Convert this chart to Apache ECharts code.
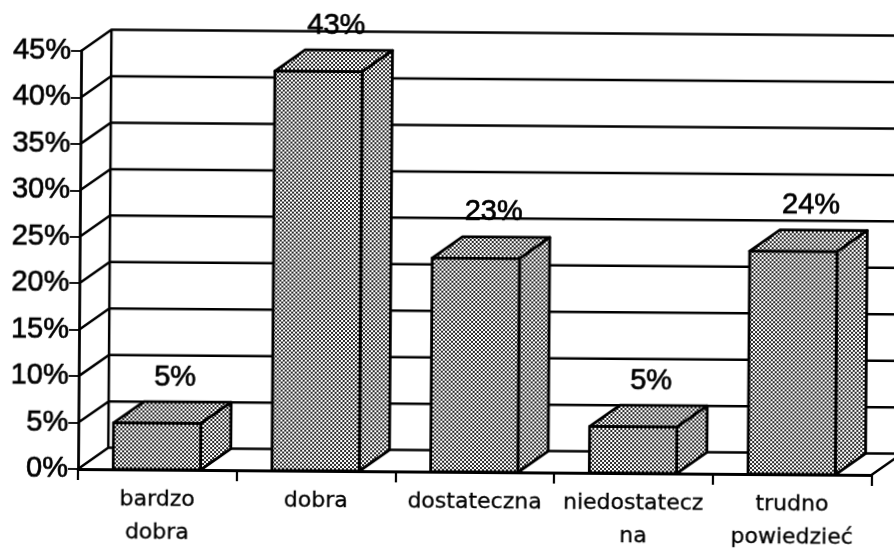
<!DOCTYPE html>
<html><head><meta charset="utf-8">
<style>
html,body{margin:0;padding:0;background:#fff;overflow:hidden}
#c{width:894px;height:549px;transform:rotate(0.43deg);transform-origin:78px 469px}
</style>
<script src="https://cdn.jsdelivr.net/npm/echarts@6/dist/echarts.min.js"></script>
</head><body><div id="c"></div>
<script>
const categories = ['bardzo\ndobra','dobra','dostateczna','niedostatecz\nna','trudno\npowiedzieć'];
const percentages = [5,43,23,5,24];
const wallTicks = [0,5,10,15,20,25,30,35,40,45];

const tile = document.createElement('canvas'); tile.width = 4; tile.height = 4;
const t = tile.getContext('2d');
t.fillStyle = '#fff'; t.fillRect(0,0,4,4);
t.fillStyle = '#2a2a2a';
t.fillRect(0,0,2,2); t.fillRect(2,2,2,2);
const pattern = {image: tile, repeat: 'repeat'};
const ink = '#000';

const chart = echarts.init(document.getElementById('c'), null, {renderer:'canvas'});
function depth(sys){ const band = sys.width/categories.length; return [band*0.19, -band*0.135]; }

function wallItem(params, api){
  const sys = params.coordSys, d = depth(sys);
  const v = api.value(0), y = api.coord([0,v])[1];
  const x0 = sys.x, xb = sys.x + d[0], xe = sys.x + sys.width + d[0];
  const kids = [{type:'polyline',shape:{points:[[x0,y],[xb,y+d[1]],[xe+10,y+d[1]]]},
    style:{fill:null,stroke:ink,lineWidth:2.5}}];
  if (v === 0) {
    kids.push({type:'line',shape:{x1:xb,y1:sys.y+d[1],x2:xb,y2:y+d[1]},style:{stroke:ink,lineWidth:2.5}});
    kids.push({type:'line',shape:{x1:x0+sys.width,y1:y,x2:xe,y2:y+d[1]},style:{stroke:ink,lineWidth:2.5}});
  }
  return {type:'group',children:kids};
}
function barItem(params, api){
  const sys = params.coordSys, d = depth(sys);
  const i = api.value(0), v = api.value(1);
  const top = api.coord([i,v]), base = api.coord([i,0]);
  const w = api.size([1,0])[0]*0.55, cx = top[0]-0.5, l = cx-w/2, r = cx+w/2, dx = d[0], dy = d[1];
  const st = {fill:pattern,stroke:ink,lineWidth:2.8,lineJoin:'round'};
  return {type:'group',children:[
    {type:'polygon',shape:{points:[[l,top[1]],[l+dx,top[1]+dy],[r+dx,top[1]+dy],[r,top[1]]]},style:st},
    {type:'polygon',shape:{points:[[r,top[1]],[r+dx,top[1]+dy],[r+dx,base[1]+dy],[r,base[1]]]},style:st},
    {type:'rect',shape:{x:l,y:top[1],width:w,height:base[1]-top[1]},style:st},
    {type:'text',x:cx+dx*0.58,y:top[1]+dy-10,style:{text:v+'%',fill:ink,align:'center',verticalAlign:'bottom',
      font:'29px "Liberation Sans"',stroke:ink,lineWidth:0.7}}
  ]};
}
chart.setOption({
  animation:false,
  grid:{left:78,right:22.5,top:51,bottom:80,containLabel:false},
  xAxis:{type:'category',data:categories,
    axisLine:{lineStyle:{color:ink,width:2.8}},
    axisTick:{show:true,length:11,lineStyle:{color:ink,width:2.2}},
    axisLabel:{color:ink,fontFamily:'DejaVu Sans',fontSize:22,lineHeight:33,margin:14,interval:0,textBorderColor:ink,textBorderWidth:0.3}},
  yAxis:{type:'value',min:0,max:45,interval:5,
    splitLine:{show:false},
    axisLine:{show:true,lineStyle:{color:ink,width:2.8}},
    axisTick:{show:true,length:10,lineStyle:{color:ink,width:1.8}},
    axisLabel:{color:ink,fontFamily:'Liberation Sans',fontSize:29,margin:10,formatter:'{value}%',textBorderColor:ink,textBorderWidth:0.7}},
  series:[
    {type:'custom',coordinateSystem:'cartesian2d',renderItem:wallItem,silent:true,clip:false,z:1,
      encode:{y:0},data:wallTicks.map(v=>[v])},
    {type:'custom',coordinateSystem:'cartesian2d',renderItem:barItem,silent:true,clip:false,z:3,
      encode:{x:0,y:1},data:percentages.map((v,i)=>[i,v])}
  ]
});
</script></body></html>
